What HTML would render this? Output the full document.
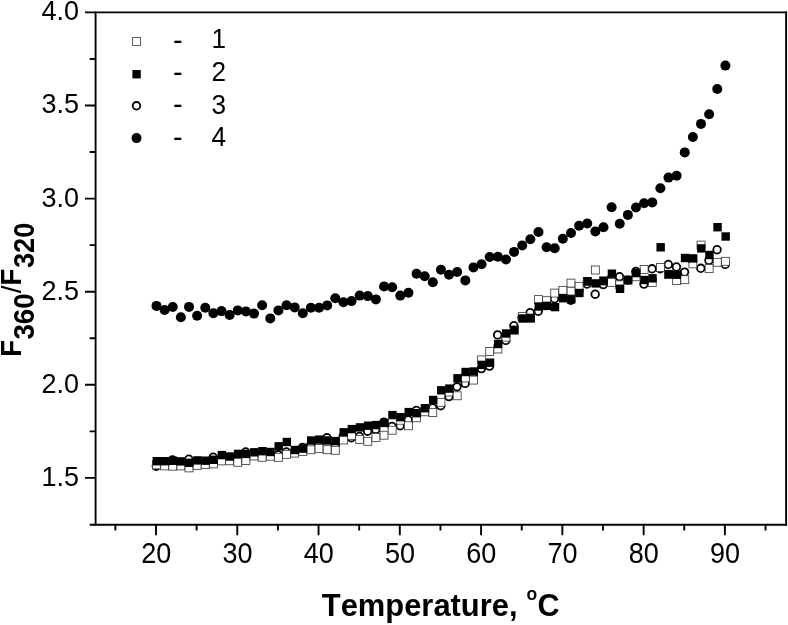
<!DOCTYPE html>
<html lang="en"><head><meta charset="utf-8"><title>F360/F320 vs Temperature</title>
<style>html,body{margin:0;padding:0;background:#fff}body{width:788px;height:625px;overflow:hidden}svg{display:block}text{font-kerning:none;font-family:"Liberation Sans",Arial,sans-serif;fill:#000}.b{font-weight:bold}</style></head><body>
<svg width="788" height="625" viewBox="0 0 788 625">
<rect width="788" height="625" fill="#fff"/>
<g stroke="#000" stroke-width="1.9" fill="none" stroke-linecap="butt">
<path d="M95.6 11.45 V525.65"/>
<path d="M786.1 11.45 V525.65"/>
<path d="M85 12.4 H787.05"/>
<path d="M89.7 524.7 H787.05"/>
<path d="M85 477.9 H95.6 M85 384.8 H95.6 M85 291.7 H95.6 M85 198.6 H95.6 M85 105.5 H95.6 M89.7 431.35 H95.6 M89.7 338.25 H95.6 M89.7 245.15 H95.6 M89.7 152.05 H95.6 M89.7 58.95 H95.6 M156 524.7 V535.3 M237.27 524.7 V535.3 M318.54 524.7 V535.3 M399.81 524.7 V535.3 M481.08 524.7 V535.3 M562.35 524.7 V535.3 M643.62 524.7 V535.3 M724.89 524.7 V535.3 M115.36 524.7 V530.4 M196.63 524.7 V530.4 M277.91 524.7 V530.4 M359.18 524.7 V530.4 M440.45 524.7 V530.4 M521.72 524.7 V530.4 M602.99 524.7 V530.4 M684.25 524.7 V530.4 M765.53 524.7 V530.4"/>
</g>
<g font-size="27" text-anchor="end">
<text transform="translate(79 20.3) scale(1 1.055)">4.0</text>
<text transform="translate(79 113.4) scale(1 1.055)">3.5</text>
<text transform="translate(79 206.5) scale(1 1.055)">3.0</text>
<text transform="translate(79 299.6) scale(1 1.055)">2.5</text>
<text transform="translate(79 392.7) scale(1 1.055)">2.0</text>
<text transform="translate(79 485.8) scale(1 1.055)">1.5</text>
</g>
<g font-size="27" text-anchor="middle">
<text transform="translate(156.2 563.3) scale(1 1.09)">20</text>
<text transform="translate(237.47 563.3) scale(1 1.09)">30</text>
<text transform="translate(318.74 563.3) scale(1 1.09)">40</text>
<text transform="translate(400.01 563.3) scale(1 1.09)">50</text>
<text transform="translate(481.28 563.3) scale(1 1.09)">60</text>
<text transform="translate(562.55 563.3) scale(1 1.09)">70</text>
<text transform="translate(643.82 563.3) scale(1 1.09)">80</text>
<text transform="translate(725.09 563.3) scale(1 1.09)">90</text>
</g>
<text class="b" font-size="30.9" transform="translate(321.8 616.4) scale(1 1.04)">Temperature,</text>
<text class="b" font-size="17.5" transform="translate(526.5 599.5) scale(1 1.04)">o</text>
<text class="b" font-size="30.6" transform="translate(537.6 616.4) scale(1 1.04)">C</text>
<text class="b" font-size="27.6" transform="translate(20.8 356.8) rotate(-90) scale(1 1.08)">F</text>
<text class="b" font-size="27.7" transform="translate(33.8 339.6) rotate(-90) scale(1 1.07)">360</text>
<text class="n" font-size="27.6" transform="translate(20.8 293.3) rotate(-90) scale(1 0.97)">/</text>
<text class="b" font-size="27.6" transform="translate(20.8 285.4) rotate(-90) scale(1 1.08)">F</text>
<text class="b" font-size="27.2" transform="translate(34 268.1) rotate(-90) scale(1 1.09)">320</text>
<g fill="#fff" stroke="#000" stroke-width="1.8">
<circle cx="156.3" cy="466.2" r="3.8"/>
<circle cx="164.43" cy="463.5" r="3.8"/>
<circle cx="172.55" cy="460" r="3.8"/>
<circle cx="180.68" cy="463.6" r="3.8"/>
<circle cx="188.81" cy="459.2" r="3.8"/>
<circle cx="196.94" cy="463" r="3.8"/>
<circle cx="205.06" cy="462.5" r="3.8"/>
<circle cx="213.19" cy="457.2" r="3.8"/>
<circle cx="221.32" cy="458" r="3.8"/>
<circle cx="229.44" cy="458.6" r="3.8"/>
<circle cx="237.57" cy="458" r="3.8"/>
<circle cx="245.7" cy="452" r="3.8"/>
<circle cx="253.82" cy="454" r="3.8"/>
<circle cx="261.95" cy="454" r="3.8"/>
<circle cx="270.08" cy="454" r="3.8"/>
<circle cx="278.21" cy="454.8" r="3.8"/>
<circle cx="286.33" cy="452" r="3.8"/>
<circle cx="294.46" cy="451.5" r="3.8"/>
<circle cx="302.59" cy="447.4" r="3.8"/>
<circle cx="310.71" cy="445" r="3.8"/>
<circle cx="318.84" cy="444" r="3.8"/>
<circle cx="326.97" cy="437.7" r="3.8"/>
<circle cx="335.09" cy="445.5" r="3.8"/>
<circle cx="343.22" cy="436" r="3.8"/>
<circle cx="351.35" cy="437.7" r="3.8"/>
<circle cx="359.48" cy="436.5" r="3.8"/>
<circle cx="367.6" cy="431.2" r="3.8"/>
<circle cx="375.73" cy="429.4" r="3.8"/>
<circle cx="383.86" cy="422.2" r="3.8"/>
<circle cx="391.98" cy="426.5" r="3.8"/>
<circle cx="400.11" cy="425.8" r="3.8"/>
<circle cx="408.24" cy="420" r="3.8"/>
<circle cx="416.36" cy="410.5" r="3.8"/>
<circle cx="424.49" cy="410" r="3.8"/>
<circle cx="432.62" cy="408" r="3.8"/>
<circle cx="440.75" cy="405.7" r="3.8"/>
<circle cx="448.87" cy="396.6" r="3.8"/>
<circle cx="457" cy="386.8" r="3.8"/>
<circle cx="465.13" cy="383.4" r="3.8"/>
<circle cx="473.25" cy="376" r="3.8"/>
<circle cx="481.38" cy="368.6" r="3.8"/>
<circle cx="489.51" cy="366.1" r="3.8"/>
<circle cx="497.63" cy="334.9" r="3.8"/>
<circle cx="505.76" cy="340.4" r="3.8"/>
<circle cx="513.89" cy="325.7" r="3.8"/>
<circle cx="522.01" cy="317.5" r="3.8"/>
<circle cx="530.14" cy="312.7" r="3.8"/>
<circle cx="538.27" cy="311.3" r="3.8"/>
<circle cx="546.4" cy="303.3" r="3.8"/>
<circle cx="554.52" cy="298.8" r="3.8"/>
<circle cx="562.65" cy="294.2" r="3.8"/>
<circle cx="570.78" cy="300.3" r="3.8"/>
<circle cx="578.9" cy="291.4" r="3.8"/>
<circle cx="587.03" cy="284" r="3.8"/>
<circle cx="595.16" cy="294.2" r="3.8"/>
<circle cx="603.28" cy="284.6" r="3.8"/>
<circle cx="611.41" cy="278" r="3.8"/>
<circle cx="619.54" cy="276.7" r="3.8"/>
<circle cx="627.67" cy="280.1" r="3.8"/>
<circle cx="635.79" cy="271.5" r="3.8"/>
<circle cx="643.92" cy="284.1" r="3.8"/>
<circle cx="652.05" cy="268.8" r="3.8"/>
<circle cx="660.17" cy="268.8" r="3.8"/>
<circle cx="668.3" cy="264.5" r="3.8"/>
<circle cx="676.43" cy="267" r="3.8"/>
<circle cx="684.55" cy="272.1" r="3.8"/>
<circle cx="692.68" cy="261" r="3.8"/>
<circle cx="700.81" cy="268.3" r="3.8"/>
<circle cx="708.94" cy="260.4" r="3.8"/>
<circle cx="717.06" cy="249.7" r="3.8"/>
<circle cx="725.19" cy="264.4" r="3.8"/>
<circle cx="136.5" cy="105.8" r="3.8"/>
</g>
<g fill="#fff" stroke="#333" stroke-width="0.8">
<rect x="567" y="287.02" width="7.95" height="7.95"/>
<rect x="152.53" y="460.92" width="7.95" height="7.95"/>
<rect x="160.65" y="461.92" width="7.95" height="7.95"/>
<rect x="168.78" y="462.22" width="7.95" height="7.95"/>
<rect x="176.91" y="461.92" width="7.95" height="7.95"/>
<rect x="185.03" y="463.92" width="7.95" height="7.95"/>
<rect x="193.16" y="461.42" width="7.95" height="7.95"/>
<rect x="201.29" y="460.42" width="7.95" height="7.95"/>
<rect x="209.41" y="459.92" width="7.95" height="7.95"/>
<rect x="217.54" y="456.92" width="7.95" height="7.95"/>
<rect x="225.67" y="456.82" width="7.95" height="7.95"/>
<rect x="233.8" y="458.32" width="7.95" height="7.95"/>
<rect x="241.92" y="456.52" width="7.95" height="7.95"/>
<rect x="250.05" y="452.02" width="7.95" height="7.95"/>
<rect x="258.18" y="453.32" width="7.95" height="7.95"/>
<rect x="266.3" y="452.22" width="7.95" height="7.95"/>
<rect x="274.43" y="453.32" width="7.95" height="7.95"/>
<rect x="282.56" y="450.32" width="7.95" height="7.95"/>
<rect x="290.68" y="449.12" width="7.95" height="7.95"/>
<rect x="298.81" y="447.62" width="7.95" height="7.95"/>
<rect x="306.94" y="445.82" width="7.95" height="7.95"/>
<rect x="315.06" y="444.52" width="7.95" height="7.95"/>
<rect x="323.19" y="445.72" width="7.95" height="7.95"/>
<rect x="331.32" y="446.32" width="7.95" height="7.95"/>
<rect x="339.45" y="436.02" width="7.95" height="7.95"/>
<rect x="347.57" y="431.42" width="7.95" height="7.95"/>
<rect x="355.7" y="435.42" width="7.95" height="7.95"/>
<rect x="363.83" y="437.32" width="7.95" height="7.95"/>
<rect x="371.95" y="433.52" width="7.95" height="7.95"/>
<rect x="380.08" y="431.22" width="7.95" height="7.95"/>
<rect x="388.21" y="426.22" width="7.95" height="7.95"/>
<rect x="396.34" y="416.22" width="7.95" height="7.95"/>
<rect x="404.46" y="421.82" width="7.95" height="7.95"/>
<rect x="412.59" y="413.82" width="7.95" height="7.95"/>
<rect x="420.72" y="407.82" width="7.95" height="7.95"/>
<rect x="428.84" y="408.52" width="7.95" height="7.95"/>
<rect x="436.97" y="398.32" width="7.95" height="7.95"/>
<rect x="445.1" y="388.02" width="7.95" height="7.95"/>
<rect x="453.22" y="391.82" width="7.95" height="7.95"/>
<rect x="461.35" y="373.92" width="7.95" height="7.95"/>
<rect x="469.48" y="376.12" width="7.95" height="7.95"/>
<rect x="477.61" y="355.92" width="7.95" height="7.95"/>
<rect x="485.73" y="347.52" width="7.95" height="7.95"/>
<rect x="493.86" y="345.02" width="7.95" height="7.95"/>
<rect x="501.99" y="333.22" width="7.95" height="7.95"/>
<rect x="510.11" y="326.02" width="7.95" height="7.95"/>
<rect x="518.24" y="312.62" width="7.95" height="7.95"/>
<rect x="526.37" y="314.02" width="7.95" height="7.95"/>
<rect x="534.49" y="295.62" width="7.95" height="7.95"/>
<rect x="542.62" y="296.72" width="7.95" height="7.95"/>
<rect x="550.75" y="289.12" width="7.95" height="7.95"/>
<rect x="558.88" y="286.32" width="7.95" height="7.95"/>
<rect x="567" y="279.12" width="7.95" height="7.95"/>
<rect x="575.13" y="282.32" width="7.95" height="7.95"/>
<rect x="583.26" y="277.52" width="7.95" height="7.95"/>
<rect x="591.38" y="266.02" width="7.95" height="7.95"/>
<rect x="599.51" y="277.02" width="7.95" height="7.95"/>
<rect x="607.64" y="278.42" width="7.95" height="7.95"/>
<rect x="615.76" y="280.82" width="7.95" height="7.95"/>
<rect x="623.89" y="276.02" width="7.95" height="7.95"/>
<rect x="632.02" y="272.82" width="7.95" height="7.95"/>
<rect x="640.15" y="265.52" width="7.95" height="7.95"/>
<rect x="648.27" y="278.52" width="7.95" height="7.95"/>
<rect x="656.4" y="263.52" width="7.95" height="7.95"/>
<rect x="664.53" y="270.32" width="7.95" height="7.95"/>
<rect x="672.65" y="276.62" width="7.95" height="7.95"/>
<rect x="680.78" y="275.72" width="7.95" height="7.95"/>
<rect x="688.91" y="259.92" width="7.95" height="7.95"/>
<rect x="697.03" y="241.12" width="7.95" height="7.95"/>
<rect x="705.16" y="264.62" width="7.95" height="7.95"/>
<rect x="713.29" y="258.32" width="7.95" height="7.95"/>
<rect x="721.42" y="257.32" width="7.95" height="7.95"/>
<rect x="132.62" y="37.52" width="7.95" height="7.95"/>
</g>
<g fill="#000">
<rect x="152.6" y="457" width="8.4" height="8.4"/>
<rect x="160.73" y="457" width="8.4" height="8.4"/>
<rect x="168.85" y="456.6" width="8.4" height="8.4"/>
<rect x="176.98" y="457.2" width="8.4" height="8.4"/>
<rect x="185.11" y="458.6" width="8.4" height="8.4"/>
<rect x="193.24" y="456.2" width="8.4" height="8.4"/>
<rect x="201.36" y="456.5" width="8.4" height="8.4"/>
<rect x="209.49" y="455.6" width="8.4" height="8.4"/>
<rect x="217.62" y="450.9" width="8.4" height="8.4"/>
<rect x="225.74" y="452.3" width="8.4" height="8.4"/>
<rect x="233.87" y="449.7" width="8.4" height="8.4"/>
<rect x="242" y="449.7" width="8.4" height="8.4"/>
<rect x="250.12" y="448.1" width="8.4" height="8.4"/>
<rect x="258.25" y="447" width="8.4" height="8.4"/>
<rect x="266.38" y="447.8" width="8.4" height="8.4"/>
<rect x="274.51" y="442.1" width="8.4" height="8.4"/>
<rect x="282.63" y="437.8" width="8.4" height="8.4"/>
<rect x="290.76" y="445.8" width="8.4" height="8.4"/>
<rect x="298.89" y="444.4" width="8.4" height="8.4"/>
<rect x="307.01" y="436.3" width="8.4" height="8.4"/>
<rect x="315.14" y="435.4" width="8.4" height="8.4"/>
<rect x="323.27" y="436.3" width="8.4" height="8.4"/>
<rect x="331.39" y="436.9" width="8.4" height="8.4"/>
<rect x="339.52" y="428.1" width="8.4" height="8.4"/>
<rect x="347.65" y="424.9" width="8.4" height="8.4"/>
<rect x="355.78" y="423.2" width="8.4" height="8.4"/>
<rect x="363.9" y="421.5" width="8.4" height="8.4"/>
<rect x="372.03" y="420.9" width="8.4" height="8.4"/>
<rect x="380.16" y="418.7" width="8.4" height="8.4"/>
<rect x="388.28" y="410.9" width="8.4" height="8.4"/>
<rect x="396.41" y="413" width="8.4" height="8.4"/>
<rect x="404.54" y="407.9" width="8.4" height="8.4"/>
<rect x="412.66" y="409" width="8.4" height="8.4"/>
<rect x="420.79" y="404" width="8.4" height="8.4"/>
<rect x="428.92" y="395.8" width="8.4" height="8.4"/>
<rect x="437.05" y="386.1" width="8.4" height="8.4"/>
<rect x="445.17" y="384.4" width="8.4" height="8.4"/>
<rect x="453.3" y="374.1" width="8.4" height="8.4"/>
<rect x="461.43" y="367.8" width="8.4" height="8.4"/>
<rect x="469.55" y="367.3" width="8.4" height="8.4"/>
<rect x="477.68" y="360.7" width="8.4" height="8.4"/>
<rect x="485.81" y="358.5" width="8.4" height="8.4"/>
<rect x="493.93" y="339.8" width="8.4" height="8.4"/>
<rect x="502.06" y="329.3" width="8.4" height="8.4"/>
<rect x="510.19" y="325.9" width="8.4" height="8.4"/>
<rect x="518.31" y="314.3" width="8.4" height="8.4"/>
<rect x="526.44" y="314.1" width="8.4" height="8.4"/>
<rect x="534.57" y="302.3" width="8.4" height="8.4"/>
<rect x="542.7" y="301.7" width="8.4" height="8.4"/>
<rect x="550.82" y="302.9" width="8.4" height="8.4"/>
<rect x="558.95" y="294" width="8.4" height="8.4"/>
<rect x="567.08" y="295.1" width="8.4" height="8.4"/>
<rect x="575.2" y="288.8" width="8.4" height="8.4"/>
<rect x="583.33" y="277.1" width="8.4" height="8.4"/>
<rect x="591.46" y="279.2" width="8.4" height="8.4"/>
<rect x="599.58" y="276.7" width="8.4" height="8.4"/>
<rect x="607.71" y="269.5" width="8.4" height="8.4"/>
<rect x="615.84" y="284.6" width="8.4" height="8.4"/>
<rect x="623.97" y="275.9" width="8.4" height="8.4"/>
<rect x="632.09" y="268.9" width="8.4" height="8.4"/>
<rect x="640.22" y="275.8" width="8.4" height="8.4"/>
<rect x="648.35" y="274.1" width="8.4" height="8.4"/>
<rect x="656.47" y="243.1" width="8.4" height="8.4"/>
<rect x="664.6" y="270.1" width="8.4" height="8.4"/>
<rect x="672.73" y="270.5" width="8.4" height="8.4"/>
<rect x="680.85" y="253.8" width="8.4" height="8.4"/>
<rect x="688.98" y="254.2" width="8.4" height="8.4"/>
<rect x="697.11" y="244.2" width="8.4" height="8.4"/>
<rect x="705.24" y="250.8" width="8.4" height="8.4"/>
<rect x="713.36" y="223" width="8.4" height="8.4"/>
<rect x="721.49" y="232.3" width="8.4" height="8.4"/>
<rect x="132.4" y="70" width="8.4" height="8.4"/>
<circle cx="156.5" cy="305.9" r="5"/>
<circle cx="164.63" cy="310" r="5"/>
<circle cx="172.75" cy="307" r="5"/>
<circle cx="180.88" cy="317.2" r="5"/>
<circle cx="189.01" cy="306.9" r="5"/>
<circle cx="197.13" cy="315.8" r="5"/>
<circle cx="205.26" cy="307.8" r="5"/>
<circle cx="213.39" cy="313.2" r="5"/>
<circle cx="221.52" cy="311.1" r="5"/>
<circle cx="229.64" cy="314.9" r="5"/>
<circle cx="237.77" cy="310.4" r="5"/>
<circle cx="245.9" cy="311.4" r="5"/>
<circle cx="254.02" cy="313.6" r="5"/>
<circle cx="262.15" cy="305.2" r="5"/>
<circle cx="270.28" cy="318.4" r="5"/>
<circle cx="278.41" cy="310.4" r="5"/>
<circle cx="286.53" cy="305.2" r="5"/>
<circle cx="294.66" cy="307.4" r="5"/>
<circle cx="302.79" cy="313.3" r="5"/>
<circle cx="310.91" cy="307.7" r="5"/>
<circle cx="319.04" cy="307.7" r="5"/>
<circle cx="327.17" cy="305.4" r="5"/>
<circle cx="335.29" cy="298.2" r="5"/>
<circle cx="343.42" cy="302.2" r="5"/>
<circle cx="351.55" cy="301.1" r="5"/>
<circle cx="359.68" cy="295.6" r="5"/>
<circle cx="367.8" cy="296.1" r="5"/>
<circle cx="375.93" cy="299.4" r="5"/>
<circle cx="384.06" cy="286.4" r="5"/>
<circle cx="392.18" cy="287.2" r="5"/>
<circle cx="400.31" cy="295.6" r="5"/>
<circle cx="408.44" cy="292.7" r="5"/>
<circle cx="416.56" cy="273.8" r="5"/>
<circle cx="424.69" cy="276.2" r="5"/>
<circle cx="432.82" cy="282.3" r="5"/>
<circle cx="440.95" cy="269.7" r="5"/>
<circle cx="449.07" cy="274.7" r="5"/>
<circle cx="457.2" cy="272" r="5"/>
<circle cx="465.33" cy="280.4" r="5"/>
<circle cx="473.45" cy="267.4" r="5"/>
<circle cx="481.58" cy="264.2" r="5"/>
<circle cx="489.71" cy="257" r="5"/>
<circle cx="497.83" cy="256.8" r="5"/>
<circle cx="505.96" cy="259.5" r="5"/>
<circle cx="514.09" cy="251.9" r="5"/>
<circle cx="522.22" cy="245.4" r="5"/>
<circle cx="530.34" cy="239.3" r="5"/>
<circle cx="538.47" cy="232" r="5"/>
<circle cx="546.6" cy="247.3" r="5"/>
<circle cx="554.72" cy="248.2" r="5"/>
<circle cx="562.85" cy="238.8" r="5"/>
<circle cx="570.98" cy="233" r="5"/>
<circle cx="579.1" cy="225.7" r="5"/>
<circle cx="587.23" cy="223.5" r="5"/>
<circle cx="595.36" cy="231.4" r="5"/>
<circle cx="603.49" cy="227.2" r="5"/>
<circle cx="611.61" cy="207.2" r="5"/>
<circle cx="619.74" cy="223.8" r="5"/>
<circle cx="627.87" cy="214.9" r="5"/>
<circle cx="635.99" cy="207.5" r="5"/>
<circle cx="644.12" cy="203.2" r="5"/>
<circle cx="652.25" cy="202.4" r="5"/>
<circle cx="660.37" cy="188.3" r="5"/>
<circle cx="668.5" cy="177.6" r="5"/>
<circle cx="676.63" cy="175.7" r="5"/>
<circle cx="684.75" cy="152.4" r="5"/>
<circle cx="692.88" cy="137" r="5"/>
<circle cx="701.01" cy="123.9" r="5"/>
<circle cx="709.14" cy="114.3" r="5"/>
<circle cx="717.26" cy="89" r="5"/>
<circle cx="725.39" cy="65.6" r="5"/>
<circle cx="136.5" cy="138.1" r="5"/>
</g>
<g font-size="26.2">
<text transform="translate(172.9 49.9) scale(1.1 1.1)">-</text>
<text transform="translate(211.5 47.8) scale(1 1.055)">1</text>
<text transform="translate(172.9 81.6) scale(1.1 1.1)">-</text>
<text transform="translate(211.5 81) scale(1 1.055)">2</text>
<text transform="translate(172.9 114.4) scale(1.1 1.1)">-</text>
<text transform="translate(211.5 113.8) scale(1 1.055)">3</text>
<text transform="translate(172.9 146.6) scale(1.1 1.1)">-</text>
<text transform="translate(211.5 146) scale(1 1.055)">4</text>
</g>
</svg></body></html>
